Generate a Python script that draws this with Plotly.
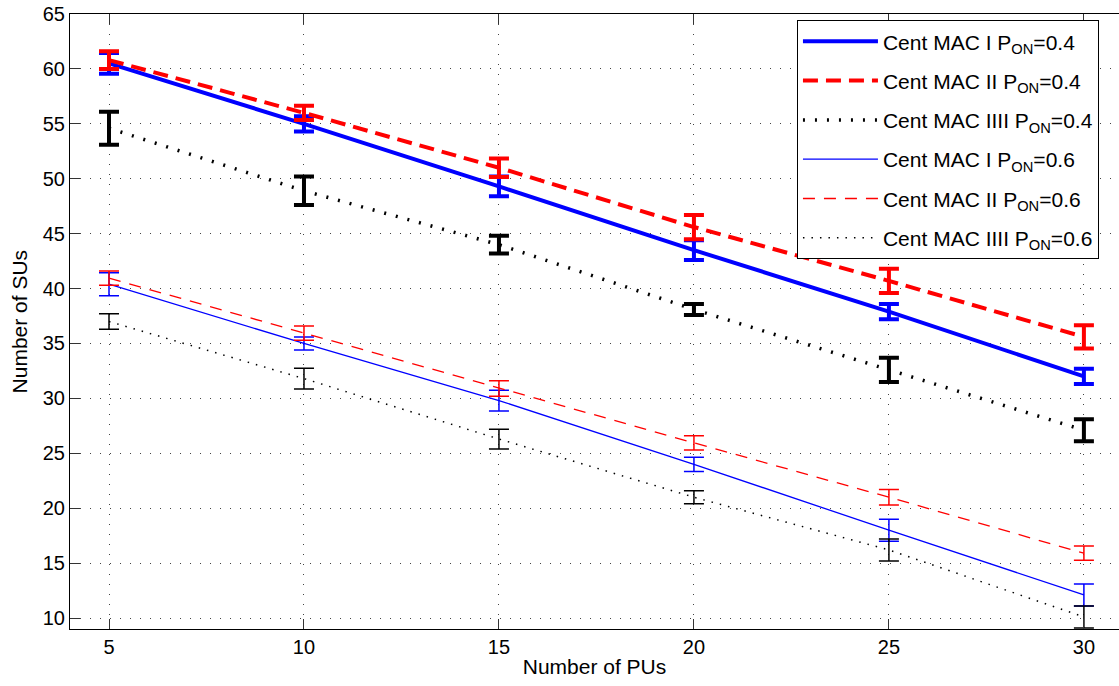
import plotly.graph_objects as go

x_pus = [5, 10, 15, 20, 25, 30]

mac1_04 = [60.5, 55.0, 49.3, 43.5, 37.9, 32.0]
mac1_04_err = [0.95, 0.7, 0.9, 0.9, 0.7, 0.7]
mac2_04 = [60.8, 56.0, 51.0, 45.6, 40.7, 35.6]
mac2_04_err = [0.8, 0.65, 0.85, 1.1, 1.1, 1.05]
mac3_04 = [54.6, 48.9, 44.0, 38.1, 32.6, 27.1]
mac3_04_err = [1.5, 1.3, 0.8, 0.5, 1.1, 1.0]

mac1_06 = [40.4, 35.0, 29.8, 24.0, 18.0, 12.1]
mac1_06_err = [1.05, 0.6, 0.95, 0.65, 1.0, 1.0]
mac2_06 = [40.95, 35.95, 30.9, 25.95, 21.0, 15.9]
mac2_06_err = [0.65, 0.65, 0.7, 0.65, 0.7, 0.65]
mac3_06 = [37.0, 31.8, 26.3, 21.0, 16.2, 10.1]
mac3_06_err = [0.7, 0.95, 0.9, 0.6, 1.0, 1.0]

names = [
    "Cent MAC I P<sub>ON</sub>=0.4",
    "Cent MAC II P<sub>ON</sub>=0.4",
    "Cent MAC IIII P<sub>ON</sub>=0.4",
    "Cent MAC I P<sub>ON</sub>=0.6",
    "Cent MAC II P<sub>ON</sub>=0.6",
    "Cent MAC IIII P<sub>ON</sub>=0.6",
]

series = [
    (mac1_04, mac1_04_err, "#0000ff", 4, "solid", 4),
    (mac2_04, mac2_04_err, "#ff0000", 4, "15px,8px", 4),
    (mac3_04, mac3_04_err, "#000000", 3.5, "2px,10px", 4),
    (mac1_06, mac1_06_err, "#0000ff", 1.3, "solid", 1.5),
    (mac2_06, mac2_06_err, "#ff0000", 1.3, "12px,9px", 1.5),
    (mac3_06, mac3_06_err, "#000000", 1.5, "1.5px,7px", 1.5),
]

fig = go.Figure()
for i, (name, (ys, es, col, lw, dash, et)) in enumerate(zip(names, series)):
    fig.add_trace(go.Scatter(
        x=x_pus, y=ys, name=name, mode="lines", legendgroup=f"g{i}",
        line=dict(color=col, width=lw, dash=dash),
        error_y=dict(type="data", array=es, visible=True, color=col,
                     thickness=et, width=10),
    ))

FONT = "Liberation Sans, Arial, sans-serif"
fig.update_layout(
    width=1119, height=686,
    margin=dict(l=70, r=0, t=14, b=57),
    paper_bgcolor="white", plot_bgcolor="white",
    font=dict(family=FONT, size=20, color="black"),
    showlegend=True,
    legend=dict(
        x=0.693, y=0.99, xanchor="left", yanchor="top",
        bgcolor="white", bordercolor="black", borderwidth=1,
        font=dict(family=FONT, size=21, color="black"),
        itemwidth=75, tracegroupgap=9,
    ),
    xaxis=dict(
        range=[4, 30.9], tickvals=[5, 10, 15, 20, 25, 30],
        showline=True, linecolor="black", linewidth=1, mirror="ticks",
        ticks="inside", ticklen=10, tickcolor="#333",
        showgrid=True, gridcolor="#444", griddash="1px,9px", gridwidth=1,
        zeroline=False,
        title=dict(text="Number of PUs", font=dict(size=21), standoff=2),
        tickfont=dict(size=20),
    ),
    yaxis=dict(
        range=[9, 65], tickvals=[10, 15, 20, 25, 30, 35, 40, 45, 50, 55, 60, 65],
        showline=True, linecolor="black", linewidth=1,
        ticks="inside", ticklen=10, tickcolor="#333",
        showgrid=True, gridcolor="#444", griddash="1px,9px", gridwidth=1,
        zeroline=False,
        tickfont=dict(size=20),
    ),
    annotations=[dict(
        text="Number of SUs", textangle=-90, showarrow=False,
        xref="paper", yref="paper", x=-0.0477, y=0.5,
        xanchor="center", yanchor="middle",
        font=dict(family=FONT, size=21, color="black"),
    )],
)

fig.write_html("out.html")
